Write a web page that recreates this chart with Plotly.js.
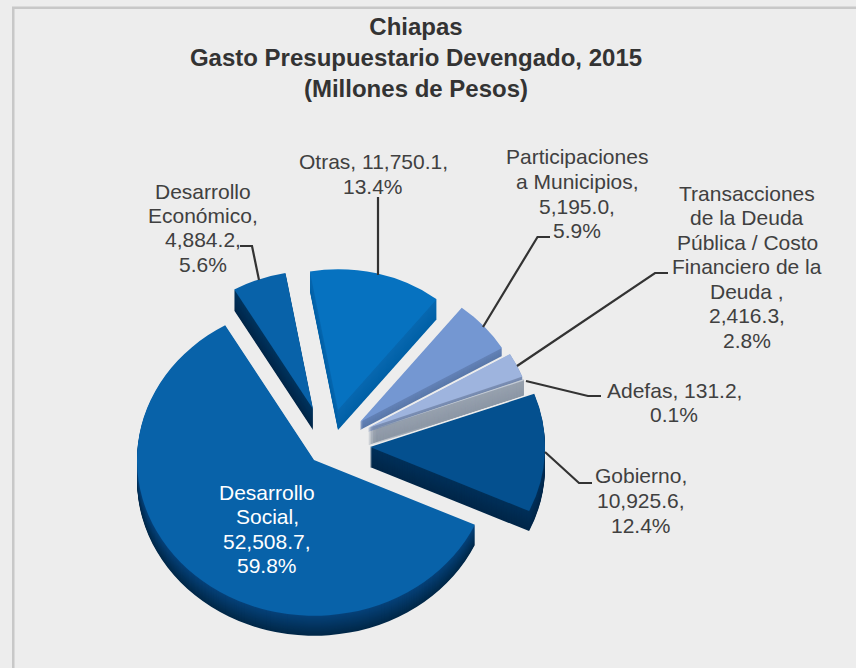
<!DOCTYPE html>
<html>
<head>
<meta charset="utf-8">
<script src="https://cdn.plot.ly/plotly-3.0.1.min.js"></script>
<style>html,body{margin:0;padding:0;background:#EDEDED;}#chart{width:856px;height:668px;}</style>
</head>
<body>
<div id="chart"></div>
<script>
// ---- data (clockwise from the top of the pie) ----
const categories = ["Otras","Participaciones a Municipios","Transacciones de la Deuda Pública / Costo Financiero de la Deuda","Adefas","Gobierno","Desarrollo Social","Desarrollo Económico"];
const values = [11750.1, 5195.0, 2416.3, 131.2, 10925.6, 52508.7, 4884.2];
const percents = ["13.4%","5.9%","2.8%","0.1%","12.4%","59.8%","5.6%"];
const valueTexts = ["11,750.1","5,195.0","2,416.3","131.2","10,925.6","52,508.7","4,884.2"];

// ---- appearance ----
const W = 856, H = 668, TILT = 0.88, START_ANGLE = -10.1;
const topColors   = ["#0672C0","#7497D2","#9EB4DE","#C3CBD6","#04508F","#0862A9","#0862A9"];
const wallHigh    = ["#0868B0","#6482B8","#7D90B5","#98A2AF","#01305A","#06427A","#01355F"];
const wallLow     = ["#0060A6","#5A79AA","#7287AC","#8C97A5","#012648","#012848","#012648"];
const apexX   = [338, 360, 368, 368, 370, 314, 313];
const apexY   = [410, 422, 428, 431, 447, 460, 409];
const radius  = [160, 165, 165, 166, 175, 177, 157];
const depth   = [20, 8, 4, 15, 20, 20, 21];
const depthStep = [1, 1, 0.5, 0.25, 1, 1, 1];
const drawOrder = [0, 6, 1, 2, 3, 4, 5];
// the thin Adefas wall is backed by a grey strip under its neighbour, so it stays solid up to the apex
const ADEFAS = 3, BACKED_BY = 2, BACKING_DEPTH = 17;

const labelCenter = [373, 577, 747, 674, 641, 267, 203];
const labelLines = [
  ["Otras, 11,750.1,","13.4%"],
  ["Participaciones","a Municipios,","5,195.0,","5.9%"],
  ["Transacciones","de la Deuda","Pública / Costo","Financiero de la","Deuda ,","2,416.3,","2.8%"],
  ["Adefas, 131.2,","0.1%"],
  ["Gobierno,","10,925.6,","12.4%"],
  ["Desarrollo","Social,","52,508.7,","59.8%"],
  ["Desarrollo","Económico,","4,884.2,","5.6%"]
];
const labelFirstY = [162, 157, 193, 390, 476, 492, 191];
const labelStep = 24.5;
const labelColor = ["#404040","#404040","#404040","#404040","#404040","#FFFFFF","#404040"];
const leaders = [
  [[378,197],[378,275]],
  [[483,327],[537.5,237],[550,237]],
  [[517,366],[655,273],[668,273]],
  [[526,381],[588,396],[601,396]],
  [[545,452],[579,483],[592,483]],
  [[240,246],[252,246],[259,280]]
];

function hex(c){return [1,3,5].map(i=>parseInt(c.substr(i,2),16));}
function mix(a,b,t){const p=hex(a),q=hex(b);return 'rgb('+p.map((v,i)=>Math.round(v+(q[i]-v)*t)).join(',')+')';}

function sliceTrace(i, drop, color){
  const Y = H - (H - (apexY[i] + drop)) / TILT;
  const r = radius[i];
  return {
    type:'pie', values:values, labels:categories, sort:false, direction:'clockwise', rotation:START_ANGLE,
    domain:{x:[(apexX[i]-r)/W,(apexX[i]+r)/W], y:[1-(Y+r)/H,1-(Y-r)/H]},
    marker:{colors:values.map((_,j)=>j===i?color:'rgba(0,0,0,0)'), line:{width:0}},
    textinfo:'none', hoverinfo:'skip', showlegend:false
  };
}

const traces = [];
drawOrder.forEach(i=>{
  if(i===BACKED_BY){
    for(let d=BACKING_DEPTH; d>depth[i]; d--) traces.push(sliceTrace(i,d,mix(wallHigh[ADEFAS],wallLow[ADEFAS],d/BACKING_DEPTH)));
  }
  for(let d=depth[i]; d>0; d-=depthStep[i]) traces.push(sliceTrace(i,d,mix(wallHigh[i],wallLow[i],d/depth[i])));
  traces.push(sliceTrace(i,0,topColors[i]));
});

const annotations = [];
labelLines.forEach((lines,i)=>lines.forEach((t,n)=>annotations.push({
  xref:'paper',yref:'paper',x:labelCenter[i]/W,y:1-(labelFirstY[i]+n*labelStep)/H,
  xanchor:'center',yanchor:'middle',showarrow:false,text:t,
  font:{family:'"Liberation Sans",Arial,sans-serif',size:21,color:labelColor[i]}
})));

const shapes = leaders.map(pts=>({
  type:'path',xref:'paper',yref:'paper',
  path:pts.map((p,k)=>(k?'L':'M')+(p[0]/W)+' '+(1-p[1]/H)).join(' '),
  line:{color:'#333333',width:2.2},layer:'above'
}));
shapes.push({type:'rect',xref:'paper',yref:'paper',x0:12/W,x1:14.5/W,y0:0,y1:1-7/H,fillcolor:'#C8C8C8',line:{width:0},layer:'below'});
shapes.push({type:'rect',xref:'paper',yref:'paper',x0:12/W,x1:1,y0:1-9/H,y1:1-6.5/H,fillcolor:'#C8C8C8',line:{width:0},layer:'below'});

const layout = {
  width:W,height:H,margin:{l:0,r:0,t:0,b:0},paper_bgcolor:'#EDEDED',plot_bgcolor:'#EDEDED',showlegend:false,
  title:{text:'<b>Chiapas<br>Gasto Presupuestario Devengado, 2015<br>(Millones de Pesos)</b>',
    x:416/W,xanchor:'center',xref:'paper',y:1-35/H,yanchor:'middle',yref:'paper',
    font:{family:'"Liberation Sans",Arial,sans-serif',size:24,color:'#333333'}},
  annotations:annotations,shapes:shapes
};

Plotly.newPlot('chart',traces,layout,{staticPlot:true,displayModeBar:false}).then(()=>{
  // the 3-D view: the pie plane is tilted back
  document.querySelectorAll('.pielayer').forEach(g=>g.setAttribute('transform','translate(0,'+(H*(1-TILT))+') scale(1,'+TILT+')'));
});
</script>
</body>
</html>
